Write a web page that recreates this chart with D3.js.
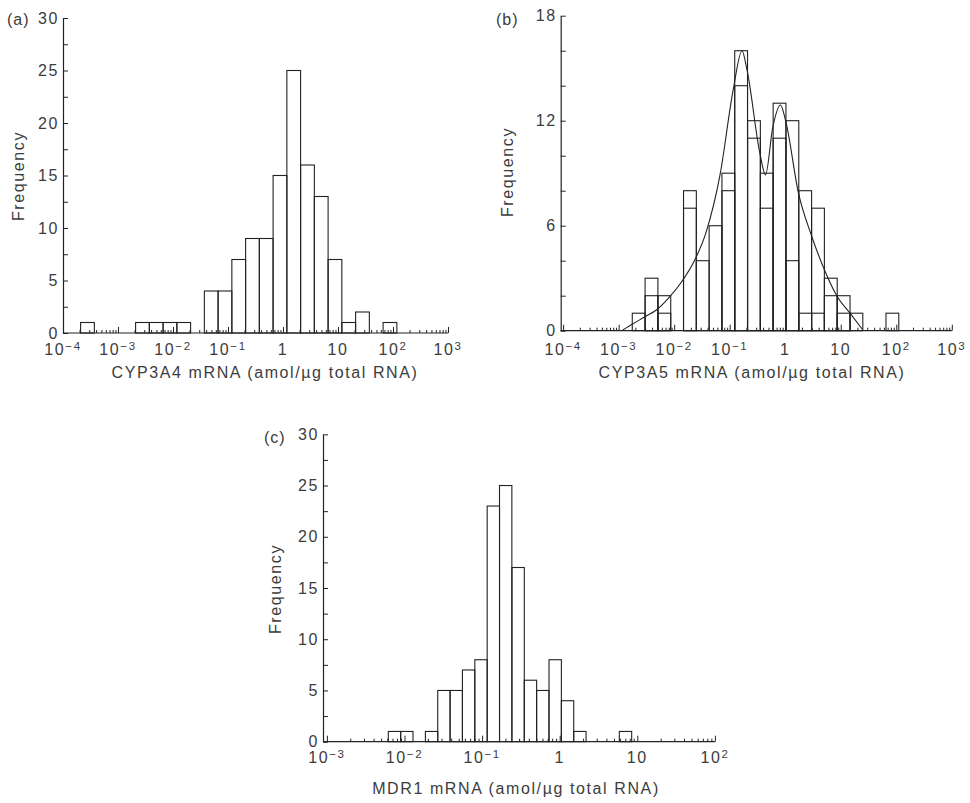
<!DOCTYPE html>
<html><head><meta charset="utf-8">
<script src="https://cdn.jsdelivr.net/npm/d3@7"></script>
<style>
html,body{margin:0;padding:0;background:#fff;}
svg{display:block;}
text{font-family:"Liberation Sans", Arial, sans-serif; fill:#3c3c3c;}
</style></head><body>
<svg id="chart" width="970" height="803"></svg>
<script>
// ---------- Panel (a): CYP3A4 ----------
const aDecades = [-4, -3, -2, -1, 0, 1, 2, 3];
const aYLabels = [0, 5, 10, 15, 20, 25, 30];
const aBinCenters = [-3.555, -2.555, -2.305, -2.055, -1.805, -1.305, -1.055, -0.805, -0.555, -0.305, -0.055, 0.195, 0.445, 0.695, 0.945, 1.195, 1.445, 1.945]; // log10 of bin centre
const aCounts = [1, 1, 1, 1, 1, 4, 4, 7, 9, 9, 15, 25, 16, 13, 7, 1, 2, 1];
const aBinWidth = 0.25; // decades

// ---------- Panel (b): CYP3A5 ----------
const bDecades = [-4, -3, -2, -1, 0, 1, 2, 3];
const bYLabels = [0, 6, 12, 18];
const bBinCenters = [-2.639, -2.408, -2.177, -1.716, -1.485, -1.255, -1.024, -0.794, -0.563, -0.332, -0.102, 0.129, 0.360, 0.590, 0.821, 1.052, 1.282, 1.93];
const bOuter = [1, 3, 2, 8, 4, 6, 9, 16, 12, 9, 13, 12, 8, 7, 3, 2, 1, 1];
const bInner = [0, 2, 1, 7, 0, 0, 8, 14, 11, 7, 11, 4, 1, 1, 2, 1, 0, 0];
const bBinWidth = 0.2306;
const bCurveLog = [-2.945, -2.765, -2.525, -2.314, -2.106, -1.864, -1.643, -1.427, -1.174, -0.935, -0.778, -0.688, -0.454, -0.355, -0.225, -0.085, 0.014, 0.236, 0.477, 0.717, 0.928, 1.167, 1.396];
const bCurveVal = [0, 0.35, 0.8, 1.2, 1.85, 2.8, 3.95, 5.6, 8.9, 13.8, 16.0, 14.9, 10.1, 8.9, 11.6, 12.9, 11.9, 7.9, 5.4, 3.4, 2.0, 1.0, 0.05];

// ---------- Panel (c): MDR1 ----------
const cDecades = [-3, -2, -1, 0, 1, 2];
const cYLabels = [0, 5, 10, 15, 20, 25, 30];
const cBinCenters = [-2.129, -1.970, -1.651, -1.492, -1.333, -1.174, -1.014, -0.855, -0.696, -0.536, -0.377, -0.218, -0.058, 0.101, 0.260, 0.848];
const cCounts = [1, 1, 1, 5, 5, 7, 8, 23, 25, 17, 6, 5, 8, 4, 1, 1];
const cBinWidth = 0.1593;

const panels = [
  {tag: "(a)", title: "CYP3A4 mRNA (amol/\u00b5g total RNA)", decades: aDecades, yLabels: aYLabels, yMax: 30, yMinorStep: 2.5,
   series: [{centers: aBinCenters, values: aCounts, width: aBinWidth}],
   xRange: [63, 448], yRange: [333, 18], yAxisX: 63,
   tagPos: [7, 25], freqPos: [18, 176], titlePos: [265, 378], tickLabelY: 355},
  {tag: "(b)", title: "CYP3A5 mRNA (amol/\u00b5g total RNA)", decades: bDecades, yLabels: bYLabels, yMax: 18, yMinorStep: 2,
   series: [{centers: bBinCenters, values: bOuter, width: bBinWidth}, {centers: bBinCenters, values: bInner, width: bBinWidth}],
   curve: {logs: bCurveLog, vals: bCurveVal},
   xRange: [563.1, 951.8], yRange: [330.7, 15.7], yAxisX: 560.7,
   tagPos: [496, 25], freqPos: [507, 172], titlePos: [752, 378], tickLabelY: 355},
  {tag: "(c)", title: "MDR1 mRNA (amol/\u00b5g total RNA)", decades: cDecades, yLabels: cYLabels, yMax: 30, yMinorStep: 2.5,
   series: [{centers: cBinCenters, values: cCounts, width: cBinWidth}],
   xRange: [326.9, 714.9], yRange: [741.7, 434.3], yAxisX: 323,
   tagPos: [264, 443], freqPos: [275, 589], titlePos: [516, 794], tickLabelY: 763}
];

const svg = d3.select("#chart");
svg.append("rect").attr("width", 970).attr("height", 803).attr("fill", "#fff");
const ink = "#222";
const FS = 16;
const LS = "1.6px";

function supText(e) { return e < 0 ? "\u2212" + (-e) : String(e); }

panels.forEach(p => {
  const dMin = p.decades[0], dMax = p.decades[p.decades.length - 1];
  const x = d3.scaleLog().domain([Math.pow(10, dMin), Math.pow(10, dMax)]).range(p.xRange);
  const y = d3.scaleLinear().domain([0, p.yMax]).range(p.yRange);
  const g = svg.append("g");

  // bars
  p.series.forEach(s => {
    g.selectAll(null).data(s.centers.map((c, i) => ({c, v: s.values[i]})).filter(d => d.v > 0))
      .join("rect")
      .attr("x", d => x(Math.pow(10, d.c - s.width / 2)))
      .attr("width", d => x(Math.pow(10, d.c + s.width / 2)) - x(Math.pow(10, d.c - s.width / 2)))
      .attr("y", d => y(d.v))
      .attr("height", d => y(0) - y(d.v))
      .attr("fill", "none").attr("stroke", ink).attr("stroke-width", 1.1);
  });

  // fitted curve
  if (p.curve) {
    const pts = p.curve.logs.map((l, i) => [x(Math.pow(10, l)), y(p.curve.vals[i])]);
    g.append("path").attr("d", d3.line().curve(d3.curveMonotoneX)(pts))
      .attr("fill", "none").attr("stroke", ink).attr("stroke-width", 1.1);
  }

  // x-axis ticks
  const minor = [];
  for (let e = dMin; e < dMax; e++) for (let k = 2; k <= 9; k++) minor.push(k * Math.pow(10, e));
  const major = p.decades.map(e => Math.pow(10, e));
  const base = y(0);
  const gxm = g.append("g").attr("transform", `translate(0,${base})`)
    .call(d3.axisBottom(x).tickValues(minor).tickSize(-3).tickSizeOuter(0).tickFormat(() => ""));
  const gxM = g.append("g").attr("transform", `translate(0,${base})`)
    .call(d3.axisBottom(x).tickValues(major).tickSize(-6).tickSizeOuter(0).tickFormat(() => ""));
  [gxm, gxM].forEach(ax => { ax.select(".domain").remove(); ax.selectAll("line").attr("stroke", ink).attr("stroke-width", 1); });
  g.append("line").attr("x1", p.yAxisX).attr("x2", p.xRange[1]).attr("y1", base).attr("y2", base)
    .attr("stroke", ink).attr("stroke-width", 1.2);

  // x tick labels with superscripts
  p.decades.forEach(e => {
    const t = g.append("text").attr("x", x(Math.pow(10, e))).attr("y", p.tickLabelY)
      .attr("text-anchor", "middle").attr("font-size", FS).style("letter-spacing", LS);
    if (e === 0) t.text("1");
    else if (e === 1) t.text("10");
    else {
      t.append("tspan").text("10");
      t.append("tspan").attr("dy", -5).attr("font-size", 11.5).text(supText(e));
    }
  });

  // y axis
  const yTicks = d3.range(0, p.yMax + 1e-9, p.yMinorStep);
  const gy = g.append("g").attr("transform", `translate(${p.yAxisX},0)`)
    .call(d3.axisLeft(y).tickValues(yTicks).tickSize(-5).tickSizeOuter(0).tickPadding(4)
      .tickFormat(v => p.yLabels.includes(v) ? String(v) : ""));
  gy.select(".domain").attr("stroke", ink).attr("stroke-width", 1.2);
  gy.selectAll("line").attr("stroke", ink).attr("stroke-width", 1);
  gy.selectAll("text").attr("font-size", FS).attr("fill", "#3c3c3c")
    .attr("font-family", '"Liberation Sans", Arial, sans-serif').style("letter-spacing", LS);

  // labels
  svg.append("text").attr("x", p.tagPos[0]).attr("y", p.tagPos[1]).attr("font-size", FS).style("letter-spacing", "1px").text(p.tag);
  svg.append("text").attr("transform", `translate(${p.freqPos[0]},${p.freqPos[1]}) rotate(-90)`)
    .attr("text-anchor", "middle").attr("dominant-baseline", "central")
    .attr("font-size", FS).style("letter-spacing", LS).text("Frequency");
  svg.append("text").attr("x", p.titlePos[0]).attr("y", p.titlePos[1]).attr("text-anchor", "middle")
    .attr("font-size", FS).style("letter-spacing", LS).text(p.title);
});
</script>
</body></html>
